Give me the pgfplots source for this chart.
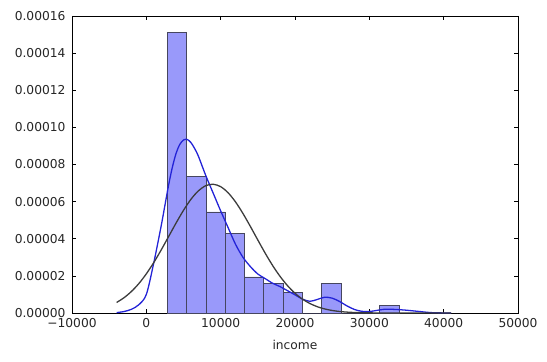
\documentclass[border=0pt]{standalone}
\usepackage{pgfplots}
\pgfplotsset{compat=1.18}
\usepackage{fontspec}
\setmainfont{DejaVu Sans}
\definecolor{barfill}{RGB}{153,153,250}
\definecolor{baredge}{RGB}{70,70,95}
\definecolor{kdeblue}{RGB}{35,35,215}
\definecolor{fitgray}{RGB}{60,60,60}
\begin{document}
\begin{tikzpicture}[x=1bp,y=1bp]
\useasboundingbox (0,0) rectangle (547,361);
\begin{axis}[
  at={(72bp,48bp)}, anchor=south west,
  scale only axis, width=446bp, height=297bp,
  xmin=-10000, xmax=50000, ymin=0, ymax=0.00016,
  xtick={-10000,0,10000,20000,30000,40000,50000},
  xticklabels={−10000,0,10000,20000,30000,40000,50000},
  ytick={0,0.00002,0.00004,0.00006,0.00008,0.0001,0.00012,0.00014,0.00016},
  yticklabels={0.00000,0.00002,0.00004,0.00006,0.00008,0.00010,0.00012,0.00014,0.00016},
  scaled y ticks=false, scaled x ticks=false,
  tick align=inside, xtick pos=both, ytick pos=both,
  major tick length=4bp,
  tick style={black, line width=0.6pt},
  axis line style={black, line width=0.8pt},
  ticklabel style={font=\fontsize{12.3}{14}\selectfont, text=black!85},
  xticklabel style={yshift=-1.5bp},
  yticklabel style={xshift=-3bp},
  xlabel={income}, xlabel style={font=\fontsize{12.3}{14}\selectfont, text=black!85, yshift=-6bp},
  clip=true,
]
\addplot[ybar interval, fill=barfill, draw=baredge, line width=0.6pt] coordinates {
(2800,0.000151) (5400,0.0000735) (8000,0.0000545) (10600,0.000043)
(13200,0.0000194) (15800,0.0000158) (18400,0.0000113) (21000,0)
(23600,0.0000158) (26200,0) (28800,0) (31400,0.000004) (34000,0)
};
\addplot[kdeblue, line width=1.3pt, smooth, tension=0.5, mark=none] coordinates {
(-4000,0.0000002) (-3000,0.0000008) (-2000,0.000002) (-1000,0.0000045)
(0,0.00001) (1000,0.000027) (2000,0.000047) (2500,0.000058) (3000,0.000069)
(3500,0.0000785) (4000,0.000086) (4500,0.0000908) (5000,0.0000932)
(5500,0.0000935) (6000,0.0000918) (6500,0.0000886) (7000,0.0000845)
(8000,0.000074) (9000,0.0000645) (10000,0.000055)
(11000,0.000046) (12000,0.000037) (13000,0.00003) (14000,0.000025)
(15000,0.000021) (16000,0.0000185) (17000,0.000016) (18000,0.0000142)
(19000,0.000012) (20000,0.0000098) (21000,0.0000075) (22000,0.0000063)
(23000,0.0000073) (24000,0.0000085) (25000,0.000008) (26000,0.0000062)
(27000,0.0000038) (28000,0.0000019) (29000,0.0000009) (30000,0.0000008)
(31000,0.0000014) (32000,0.000002) (33000,0.000002) (34000,0.0000018)
(35000,0.0000015) (36000,0.0000011) (37000,0.0000007) (38000,0.0000003)
(39000,0.0000001) (41000,0)
};
\addplot[fitgray, line width=1.3pt, smooth, mark=none] coordinates {
(-4000,0.00000567) (-3000,0.00000824) (-2000,0.00001162) (-1000,0.00001589)
(0,0.00002111) (1000,0.00002718) (2000,0.00003398) (3000,0.00004121)
(4000,0.00004846) (5000,0.00005532) (6000,0.00006126) (7000,0.00006581)
(8000,0.0000686) (9000,0.00006936) (10000,0.00006806) (11000,0.00006478)
(12000,0.00005983) (13000,0.0000536) (14000,0.0000466) (15000,0.00003931)
(16000,0.00003216) (17000,0.00002552) (18000,0.00001966) (19000,0.0000147)
(20000,0.00001065) (21000,0.00000749) (22000,0.00000512) (23000,0.00000339)
(24000,0.00000218) (25000,0.00000136) (26000,0.00000082) (27000,0.00000048)
(28000,0.00000027) (30000,0.00000008) (32000,0.00000002) (35000,0) (41000,0)
};
\end{axis}
\end{tikzpicture}
\end{document}
